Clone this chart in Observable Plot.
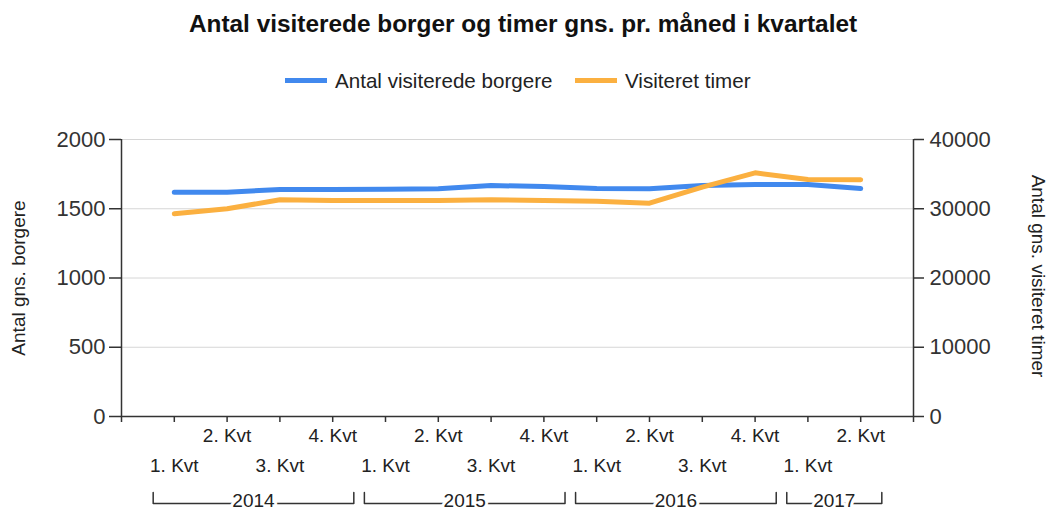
<!DOCTYPE html>
<html><head><meta charset="utf-8">
<script src="https://cdn.jsdelivr.net/npm/d3@7"></script>
<script src="https://cdn.jsdelivr.net/npm/@observablehq/plot@0.6"></script>
<style>
body{margin:0;background:#fff;font-family:"Liberation Sans",Arial,sans-serif;}
#wrap{position:relative;width:1049px;height:510px;overflow:hidden;}
#chart{position:absolute;left:0;top:0;}
#title{position:absolute;left:0;top:12px;width:1046px;text-align:center;font-weight:bold;font-size:24.4px;line-height:24px;color:#111;}
.sw{position:absolute;height:5px;top:78px;}
.lt{position:absolute;top:71px;font-size:20.6px;line-height:20px;color:#222;white-space:nowrap;}
</style></head><body>
<div id="wrap">
<div id="chart"></div>
<div id="title">Antal visiterede borger og timer gns. pr. måned i kvartalet</div>
<div id="legend"></div>
</div>
<script>
// ---- data ----
const quarterLabels = ["1. Kvt","2. Kvt","3. Kvt","4. Kvt","1. Kvt","2. Kvt","3. Kvt","4. Kvt","1. Kvt","2. Kvt","3. Kvt","4. Kvt","1. Kvt","2. Kvt"];
const yearOf = ["2014","2014","2014","2014","2015","2015","2015","2015","2016","2016","2016","2016","2017","2017"];
const years = ["2014","2015","2016","2017"];
const borgere = [1620,1620,1639,1639,1640,1644,1668,1660,1646,1644,1668,1675,1675,1646];
const timer = [29270,30000,31290,31200,31200,31200,31290,31190,31090,30800,33120,35190,34220,34180];
const seriesNames = ["Antal visiterede borgere","Visiteret timer"];
const seriesColors = ["#4189ee","#fbb040"];
const leftTicks = [0,500,1000,1500,2000];
const rightTicks = [0,10000,20000,30000,40000];
const leftTitle = "Antal gns. borgere";
const rightTitle = "Antal gns. visiteret timer";

// ---- build ----
const W = 1049, H = 510, mT = 139, mB = 94, mL = 121, mR = 136;
const ratio = rightTicks[rightTicks.length-1] / leftTicks[leftTicks.length-1];
const plotH = H - mT - mB;
const unitsPerPx = (leftTicks[leftTicks.length-1] - leftTicks[0]) / plotH;
const below = px => -px * unitsPerPx;

const rows = quarterLabels.map((label, i) => ({x: i + 1, b: borgere[i], t: timer[i] / ratio, label, year: yearOf[i]}));
const nX = rows.length + 1;

const bracketPts = [];
const yearLabels = [];
years.forEach(y => {
  const xs = rows.filter(r => r.year === y).map(r => r.x);
  const f = d3.min(xs) - 0.4, l = d3.max(xs) + 0.4;
  bracketPts.push({x: f, y: below(76), year: y}, {x: f, y: below(87), year: y}, {x: l, y: below(87), year: y}, {x: l, y: below(76), year: y});
  yearLabels.push({x: (d3.min(xs) + d3.max(xs)) / 2, y: below(87), year: y});
});

const axisColor = "#333";
const chart = Plot.plot({
  width: W, height: H,
  marginTop: mT, marginBottom: mB, marginLeft: mL, marginRight: mR,
  style: {fontFamily: "Liberation Sans, Arial, sans-serif", background: "white", color: "#222"},
  x: {domain: [0, nX], axis: null},
  y: {domain: [leftTicks[0], leftTicks[leftTicks.length-1]], axis: null},
  marks: [
    Plot.gridY(leftTicks.slice(1), {stroke: "#d6d6d6", strokeOpacity: 1, strokeWidth: 1}),
    Plot.axisY(leftTicks, {anchor: "left", tickSize: 12, tickPadding: 4, tickFormat: d => String(d), fontSize: 22, label: null, color: axisColor, strokeWidth: 1.5}),
    Plot.axisY(rightTicks.map(v => v / ratio), {anchor: "right", tickSize: 10, tickPadding: 6, tickFormat: d => String(Math.round(d * ratio)), fontSize: 22, label: null, color: axisColor, strokeWidth: 1.5}),
    Plot.axisX(d3.range(0, nX + 1), {tickSize: 6, tickFormat: () => "", label: null, color: axisColor, strokeWidth: 1.5}),
    Plot.ruleX([0, nX], {stroke: axisColor, strokeWidth: 1.5}),
    Plot.ruleY([0], {stroke: axisColor, strokeWidth: 1.5}),
    Plot.text(rows.filter(r => r.x % 2 === 0), {x: "x", text: "label", frameAnchor: "bottom", dy: 25, fontSize: 19, fill: "#222"}),
    Plot.text(rows.filter(r => r.x % 2 === 1), {x: "x", text: "label", frameAnchor: "bottom", dy: 55, fontSize: 19, fill: "#222"}),
    Plot.line(bracketPts, {x: "x", y: "y", z: "year", stroke: axisColor, strokeWidth: 1.5}),
    Plot.text(yearLabels, {x: "x", y: "y", text: "year", fontSize: 19, fill: "#222", stroke: "white", strokeWidth: 6, paintOrder: "stroke", dy: -3}),
    Plot.text([leftTitle], {frameAnchor: "left", textAnchor: "middle", dx: -103, rotate: -90, fontSize: 19, fill: "#222"}),
    Plot.text([rightTitle], {frameAnchor: "right", textAnchor: "middle", dx: 125, dy: -2, rotate: 90, fontSize: 19, fill: "#222"}),
    Plot.line(rows, {x: "x", y: "b", stroke: seriesColors[0], strokeWidth: 5}),
    Plot.line(rows, {x: "x", y: "t", stroke: seriesColors[1], strokeWidth: 5})
  ]
});
document.getElementById("chart").appendChild(chart);

// legend
const legend = document.getElementById("legend");
const legendPos = [{sw: 285, tx: 335}, {sw: 575, tx: 625}];
seriesNames.forEach((name, i) => {
  const s = document.createElement("div");
  s.className = "sw"; s.style.left = legendPos[i].sw + "px"; s.style.width = "42px"; s.style.background = seriesColors[i];
  const t = document.createElement("div");
  t.className = "lt"; t.style.left = legendPos[i].tx + "px"; t.textContent = name;
  legend.appendChild(s); legend.appendChild(t);
});
</script>
</body></html>
